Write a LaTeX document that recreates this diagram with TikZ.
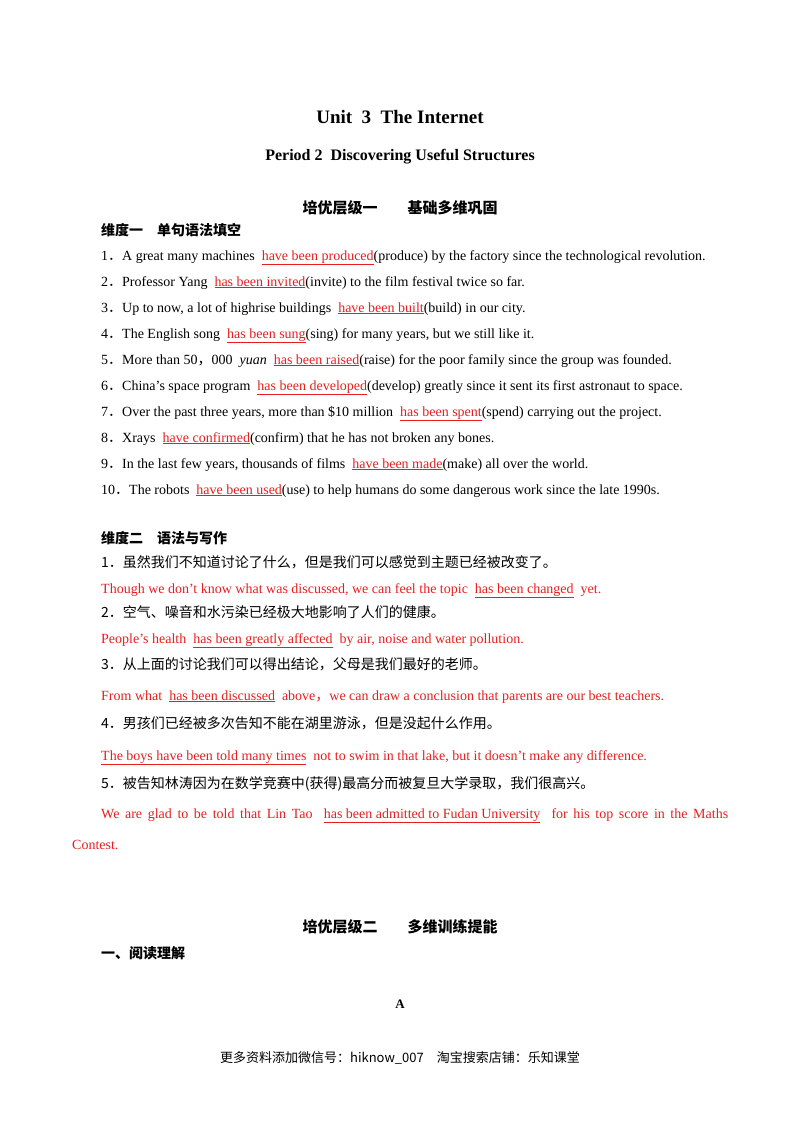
\documentclass[tikz,border=0pt]{standalone}
\usepackage{fontspec}
\setmainfont{Liberation Serif}
\newfontfamily\cjk{Noto Sans CJK SC}
\definecolor{ansred}{RGB}{230,30,30}
\newcommand{\ans}[1]{\textcolor{ansred}{\underline{#1}}}
\newcommand{\fp}{{\cjk ．}}
\newcommand{\fc}{{\cjk ，}}
\begin{document}
\begin{tikzpicture}[x=1pt,y=-1pt,
  txt/.style={anchor=base west,inner sep=0pt,font=\fontsize{14}{16}\selectfont},
  red/.style={txt,text=ansred},
  hd/.style={anchor=base,inner sep=0pt,font=\fontsize{16}{18}\selectfont\bfseries},
  cn/.style={anchor=base west,inner sep=0pt,font=\fontsize{14}{16}\selectfont\cjk}]
\useasboundingbox (0,0) rectangle (800,1132);
\node[hd,font=\fontsize{19}{21}\selectfont\bfseries] (t1) at (400,123) {Unit\ \ 3\ \ The Internet};
\node[hd] (t2) at (400,160) {Period 2\ \ Discovering Useful Structures};
\node[hd,font=\fontsize{15}{18}\selectfont\cjk\bfseries] (t3) at (400,213) {培优层级一\qquad 基础多维巩固};
\node[cn,font=\fontsize{14}{16}\selectfont\cjk\bfseries] (d1) at (101,235) {维度一\quad 单句语法填空};
\node[txt] (q1) at (101,260) {1\fp A great many machines \ \ans{have been produced}(produce) by the factory since the technological revolution.};
\node[txt] (q2) at (101,286) {2\fp Professor Yang \ \ans{has been invited}(invite) to the film festival twice so far.};
\node[txt] (q3) at (101,312) {3\fp Up to now, a lot of highrise buildings \ \ans{have been built}(build) in our city.};
\node[txt] (q4) at (101,338) {4\fp The English song \ \ans{has been sung}(sing) for many years, but we still like it.};
\node[txt] (q5) at (101,364) {5\fp More than 50\fc 000 \ \textit{yuan} \ \ans{has been raised}(raise) for the poor family since the group was founded.};
\node[txt] (q6) at (101,390) {6\fp China's space program \ \ans{has been developed}(develop) greatly since it sent its first astronaut to space.};
\node[txt] (q7) at (101,416) {7\fp Over the past three years, more than \$10 million \ \ans{has been spent}(spend) carrying out the project.};
\node[txt] (q8) at (101,442) {8\fp Xrays \ \ans{have confirmed}(confirm) that he has not broken any bones.};
\node[txt] (q9) at (101,468) {9\fp In the last few years, thousands of films \ \ans{have been made}(make) all over the world.};
\node[txt] (q10) at (101,494) {10\fp The robots \ \ans{have been used}(use) to help humans do some dangerous work since the late 1990s.};
\node[cn,font=\fontsize{14}{16}\selectfont\cjk\bfseries] (d2) at (101,543) {维度二\quad 语法与写作};
\node[cn] (c1) at (101,567) {1．虽然我们不知道讨论了什么，但是我们可以感觉到主题已经被改变了。};
\node[red] (a1) at (101,593) {Though we don't know what was discussed, we can feel the topic \ \underline{has been changed} \ yet.};
\node[cn] (c2) at (101,617) {2．空气、噪音和水污染已经极大地影响了人们的健康。};
\node[red] (a2) at (101,643) {People's health \ \underline{has been greatly affected} \ by air, noise and water pollution.};
\node[cn] (c3) at (101,669) {3．从上面的讨论我们可以得出结论，父母是我们最好的老师。};
\node[red] (a3) at (101,700) {From what \ \underline{has been discussed} \ above\fc we can draw a conclusion that parents are our best teachers.};
\node[cn] (c4) at (101,728) {4．男孩们已经被多次告知不能在湖里游泳，但是没起什么作用。};
\node[red] (a4) at (101,760) {\underline{The boys have been told many times} \ not to swim in that lake, but it doesn't make any difference.};
\node[cn] (c5) at (101,788) {5．被告知林涛因为在数学竞赛中(获得)最高分而被复旦大学录取，我们很高兴。};
\node[anchor=north west,inner sep=0pt,text width=656pt,align=justify,text=ansred,
  font=\fontsize{14}{31}\selectfont] (a5) at (72,808)
  {\hspace*{29pt}We are glad to be told that Lin Tao \ \underline{has been admitted to Fudan University} \ for his top score in the Maths\linebreak Contest.};
\node[hd,font=\fontsize{15}{18}\selectfont\cjk\bfseries] (t4) at (400,932) {培优层级二\qquad 多维训练提能};
\node[cn,font=\fontsize{14}{16}\selectfont\cjk\bfseries] (d3) at (101,958) {一、阅读理解};
\node[hd,font=\fontsize{13}{15}\selectfont\bfseries] (A) at (400,1008) {A};
\node[anchor=base,inner sep=0pt,font=\fontsize{13}{16}\selectfont\cjk] (ft) at (400,1062) {更多资料添加微信号：hiknow\_007\quad 淘宝搜索店铺：乐知课堂};
\end{tikzpicture}
\end{document}
